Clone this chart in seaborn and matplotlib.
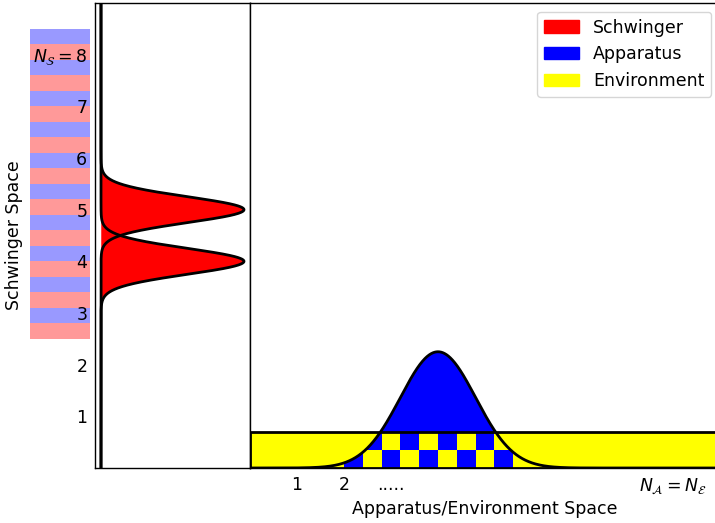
import numpy as np
import pandas as pd
import matplotlib
matplotlib.use("Agg")
import matplotlib.pyplot as plt
import matplotlib.patches as mpatches
from matplotlib.colors import ListedColormap
import seaborn as sns

# ---- data -------------------------------------------------------------
# Schwinger modes: two peaked profiles along the Schwinger axis
schwinger_centers = [4.0, 5.0]
schwinger_sigma = 0.25
schwinger_height = 1.0

# Apparatus wave packet over the apparatus/environment axis
apparatus_center = 4.0
apparatus_sigma = 0.8
apparatus_height = 2.25

# Environment band
environment_level = 0.7
environment_extent = [0.0, 10.0]

# Checkerboard (apparatus x environment cells)
checker_x_edges = [2.0, 2.4, 2.8, 3.2, 3.6, 4.0, 4.4, 4.8, 5.2, 5.6, 6.0]
checker_y_edges = [0.0, 0.35, 0.7]

# Striped Schwinger levels
stripe_edges = [2.5, 2.8, 3.1, 3.4, 3.7, 4.0, 4.3, 4.6, 4.9, 5.2, 5.5,
                5.8, 6.1, 6.4, 6.7, 7.0, 7.3, 7.6, 7.9, 8.2, 8.5]
stripe_colors = ["#ff9999", "#9999ff"]

# Ticks
y_ticks = [1, 2, 3, 4, 5, 6, 7, 8]
y_tick_labels = ["1", "2", "3", "4", "5", "6", "7", r"$N_\mathcal{S}=8$"]
x_ticks = [1, 2, 3, 9]
x_tick_labels = ["1", "2", ".....", r"$N_\mathcal{A}=N_\mathcal{E}$"]

legend_labels = ["Schwinger", "Apparatus", "Environment"]
legend_colors = ["red", "blue", "yellow"]

# ---- style ------------------------------------------------------------
sns.set_style("white", {"axes.edgecolor": "black", "text.color": "black",
                        "axes.labelcolor": "black", "xtick.color": "black",
                        "ytick.color": "black"})
plt.rcParams["font.family"] = ["DejaVu Sans"]
plt.rcParams["font.size"] = 12.5
plt.rcParams["mathtext.fontset"] = "dejavusans"

W, H = 715, 523
fig = plt.figure(figsize=(W / 100, H / 100), dpi=100)
fig.patch.set_facecolor("white")

ax_bottom_px, ax_top_px = 468, 3
bottom = (H - ax_bottom_px) / H
height = (ax_bottom_px - ax_top_px) / H
ylim = (0, 9)

ax1 = fig.add_axes([95 / W, bottom, 155 / W, height])
ax2 = fig.add_axes([250 / W, bottom, 470 / W, height])
ax_s = fig.add_axes([29.5 / W, bottom, 60.5 / W, height])
ax_s.set_zorder(-1)

# ---- striped level bar ------------------------------------------------
s_lo = np.array(stripe_edges[:-1])
s_hi = np.array(stripe_edges[1:])
ax_s.barh(y=s_lo, width=1.0, height=s_hi - s_lo, align="edge",
          color=[stripe_colors[i % 2] for i in range(len(s_lo))],
          linewidth=0)
ax_s.set_xlim(0, 1)
ax_s.set_ylim(*ylim)
ax_s.axis("off")

# ---- Schwinger panel --------------------------------------------------
ys = np.linspace(ylim[0], ylim[1], 2000)
for c in schwinger_centers:
    prof = schwinger_height * np.exp(-(ys - c) ** 2 / (2 * schwinger_sigma ** 2))
    ax1.fill_betweenx(ys, 0, prof, color="red", linewidth=0, zorder=2)
for c in schwinger_centers:
    prof = schwinger_height * np.exp(-(ys - c) ** 2 / (2 * schwinger_sigma ** 2))
    df = pd.DataFrame({"x": prof, "y": ys})
    sns.lineplot(data=df, x="x", y="y", orient="y", color="black",
                 linewidth=2, ax=ax1, zorder=3, estimator=None, sort=False)

ax1.set_xlim(-0.042, 1.042)
ax1.set_ylim(*ylim)
ax1.set_xticks([])
ax1.set_yticks(y_ticks)
ax1.set_yticklabels(y_tick_labels)
ax1.tick_params(axis="y", length=0, pad=5.5, labelsize=12.5)
ax1.set_xlabel("")
ax1.set_ylabel("Schwinger Space", fontsize=12.5)
ax1.yaxis.set_label_coords((23 - 95) / 155, 0.5)

# ---- Apparatus / Environment panel ------------------------------------
xs = np.linspace(environment_extent[0], environment_extent[1], 2000)
packet = apparatus_height * np.exp(-(xs - apparatus_center) ** 2 / (2 * apparatus_sigma ** 2))

# packet above the environment band
ax2.fill_between(xs, environment_level, packet, where=packet > environment_level,
                 interpolate=True, color="blue", linewidth=0, zorder=1)

# environment band
ax2.add_patch(mpatches.Rectangle((environment_extent[0], 0),
                                 environment_extent[1] - environment_extent[0],
                                 environment_level, facecolor="yellow",
                                 edgecolor="none", zorder=2))

# checkerboard under the packet
nx = len(checker_x_edges) - 1
ny = len(checker_y_edges) - 1
cells = np.array([[(i + j + 1) % 2 for i in range(nx)] for j in range(ny)])
mesh = ax2.pcolormesh(checker_x_edges, checker_y_edges, cells,
                      cmap=ListedColormap(["yellow", "blue"]), vmin=0, vmax=1,
                      zorder=3)
verts = np.column_stack([np.r_[xs, xs[::-1]], np.r_[packet, np.zeros_like(xs)]])
clip = mpatches.Polygon(verts, closed=True, transform=ax2.transData,
                        facecolor="none", edgecolor="none")
ax2.add_patch(clip)
mesh.set_clip_path(clip)

# band outline
ax2.add_patch(mpatches.Rectangle((environment_extent[0], 0),
                                 environment_extent[1] - environment_extent[0],
                                 environment_level, fill=False,
                                 edgecolor="black", linewidth=2, zorder=4))

sns.lineplot(x=xs, y=packet, color="black", linewidth=2, ax=ax2, zorder=5)

ax2.set_xlim(*environment_extent)
ax2.set_ylim(*ylim)
ax2.set_yticks([])
ax2.set_xticks(x_ticks)
ax2.set_xticklabels(x_tick_labels)
ax2.tick_params(axis="x", length=0, pad=5.5, labelsize=12.5)
ax2.set_xlabel("Apparatus/Environment Space", fontsize=12.5)
ax2.xaxis.set_label_coords(0.5, (ax_bottom_px - 500) / (ax_bottom_px - ax_top_px))
ax2.xaxis.label.set_va("top")

handles = [mpatches.Patch(color=c, label=l) for c, l in zip(legend_colors, legend_labels)]
ax2.legend(handles=handles, loc="upper right", fontsize=12.5)

for ax in (ax1, ax2):
    for sp in ax.spines.values():
        sp.set_color("black")
        sp.set_linewidth(1.0)

fig.savefig("out.png", dpi=100)
